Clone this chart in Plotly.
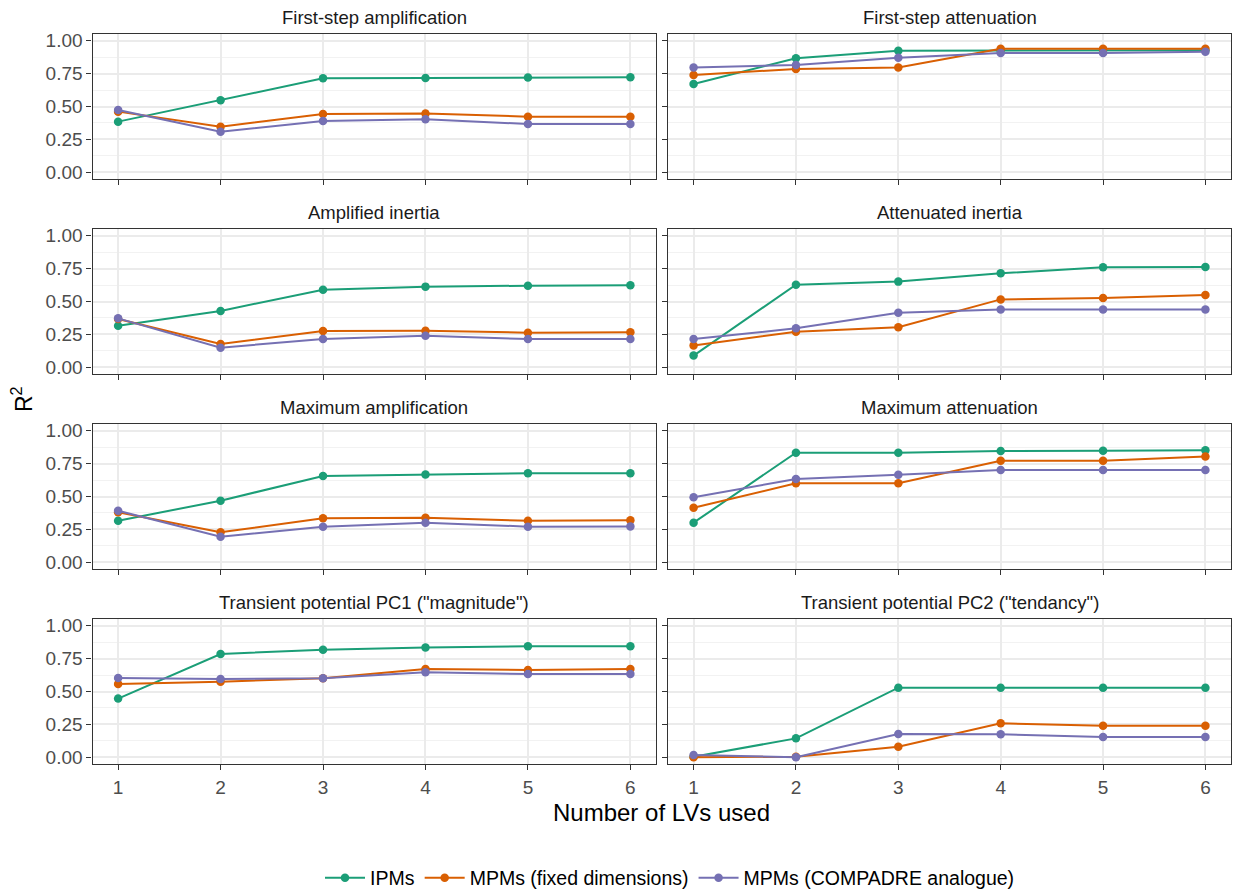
import plotly.graph_objects as go

lvs = [1, 2, 3, 4, 5, 6]
x_ticks = ["1", "2", "3", "4", "5", "6"]
y_ticks = [0.0, 0.25, 0.5, 0.75, 1.0]
y_tick_labels = ["0.00", "0.25", "0.50", "0.75", "1.00"]

series_names = ["IPMs", "MPMs (fixed dimensions)", "MPMs (COMPADRE analogue)"]
series_colors = ["#1B9E77", "#D95F02", "#7570B3"]

panel_titles = [
    "First-step amplification", "First-step attenuation",
    "Amplified inertia", "Attenuated inertia",
    "Maximum amplification", "Maximum attenuation",
    'Transient potential PC1 ("magnitude")', 'Transient potential PC2 ("tendancy")',
]

# values per panel: [IPMs, MPMs fixed, MPMs COMPADRE]
first_step_amplification = [
    [0.385, 0.547, 0.714, 0.717, 0.720, 0.722],
    [0.461, 0.347, 0.443, 0.446, 0.423, 0.423],
    [0.473, 0.309, 0.390, 0.403, 0.367, 0.367],
]
first_step_attenuation = [
    [0.671, 0.866, 0.924, 0.925, 0.926, 0.927],
    [0.739, 0.785, 0.797, 0.939, 0.939, 0.939],
    [0.797, 0.815, 0.871, 0.906, 0.906, 0.916],
]
amplified_inertia = [
    [0.316, 0.428, 0.590, 0.613, 0.620, 0.623],
    [0.367, 0.177, 0.276, 0.278, 0.263, 0.266],
    [0.372, 0.149, 0.215, 0.240, 0.215, 0.215],
]
attenuated_inertia = [
    [0.089, 0.628, 0.651, 0.714, 0.760, 0.762],
    [0.165, 0.271, 0.304, 0.516, 0.527, 0.549],
    [0.215, 0.296, 0.415, 0.440, 0.440, 0.440],
]
maximum_amplification = [
    [0.316, 0.468, 0.656, 0.668, 0.676, 0.676],
    [0.380, 0.228, 0.334, 0.339, 0.316, 0.319],
    [0.392, 0.195, 0.271, 0.301, 0.271, 0.273],
]
maximum_attenuation = [
    [0.301, 0.833, 0.833, 0.846, 0.848, 0.851],
    [0.415, 0.600, 0.600, 0.772, 0.772, 0.803],
    [0.494, 0.633, 0.666, 0.701, 0.701, 0.701],
]
transient_pc1 = [
    [0.446, 0.785, 0.818, 0.835, 0.843, 0.843],
    [0.557, 0.575, 0.600, 0.671, 0.663, 0.671],
    [0.603, 0.595, 0.600, 0.646, 0.633, 0.633],
]
transient_pc2 = [
    [0.004, 0.144, 0.529, 0.529, 0.529, 0.529],
    [0.000, 0.005, 0.081, 0.258, 0.240, 0.240],
    [0.018, 0.000, 0.177, 0.175, 0.154, 0.154],
]

panels = [
    first_step_amplification, first_step_attenuation,
    amplified_inertia, attenuated_inertia,
    maximum_amplification, maximum_attenuation,
    transient_pc1, transient_pc2,
]

W, H = 1236, 892
col_px = [(92.5, 656.0), (668.0, 1231.0)]
row_px = [(34.1, 178.9), (229.1, 373.9), (424.1, 568.9), (619.1, 763.9)]

FONT = "Liberation Sans, Arial, sans-serif"
fig = go.Figure()
layout = dict(
    width=W, height=H, margin=dict(l=0, r=0, t=0, b=0, autoexpand=False),
    paper_bgcolor="white", plot_bgcolor="white",
    font=dict(family=FONT, color="#4D4D4D"),
    showlegend=True,
)
annotations = []

for i, data in enumerate(panels):
    r, c = divmod(i, 2)
    n = i + 1
    xa = "xaxis" if n == 1 else f"xaxis{n}"
    ya = "yaxis" if n == 1 else f"yaxis{n}"
    xref = "x" if n == 1 else f"x{n}"
    yref = "y" if n == 1 else f"y{n}"
    x0, x1 = col_px[c]
    y0, y1 = row_px[r]
    layout[xa] = dict(
        domain=[x0 / W, x1 / W], range=[0.75, 6.25], anchor=yref,
        tickvals=lvs, ticktext=x_ticks, showticklabels=(r == 3),
        ticks="outside", ticklen=5, tickwidth=1.2, tickcolor="#333333",
        ticklabelstandoff=1, automargin=False,
        tickfont=dict(size=19, color="#4D4D4D", family=FONT),
        showgrid=True, gridcolor="#EBEBEB", gridwidth=1.5,
        showline=True, mirror=True, linecolor="#333333", linewidth=1.2,
        zeroline=False, fixedrange=True,
    )
    layout[ya] = dict(
        domain=[1 - y1 / H, 1 - y0 / H], range=[-0.05, 1.05], anchor=xref,
        tickvals=y_ticks, ticktext=y_tick_labels, showticklabels=(c == 0),
        ticks="outside", ticklen=5, tickwidth=1.2, tickcolor="#333333",
        automargin=False,
        tickfont=dict(size=19, color="#4D4D4D", family=FONT),
        showgrid=True, gridcolor="#EBEBEB", gridwidth=1.5,
        minor=dict(tickvals=[0.125, 0.375, 0.625, 0.875], showgrid=True,
                   gridcolor="#F2F2F2", gridwidth=0.8, ticks=""),
        showline=True, mirror=True, linecolor="#333333", linewidth=1.2,
        zeroline=False, fixedrange=True,
    )
    for s in range(3):
        fig.add_trace(go.Scatter(
            x=lvs, y=data[s], mode="lines+markers",
            name=series_names[s], legendgroup=series_names[s],
            showlegend=(i == 0),
            line=dict(color=series_colors[s], width=2),
            marker=dict(color=series_colors[s], size=8.5),
            xaxis=xref, yaxis=yref,
        ))
    annotations.append(dict(
        text=panel_titles[i], xref="paper", yref="paper",
        x=(x0 + x1) / 2 / W, y=1 - (y0 - 17) / H,
        xanchor="center", yanchor="middle", showarrow=False,
        font=dict(size=18.5, color="#1A1A1A", family=FONT),
    ))

annotations.append(dict(
    text="Number of LVs used", xref="paper", yref="paper",
    x=(92.5 + 1231) / 2 / W, y=1 - 812 / H, xanchor="center", yanchor="middle",
    showarrow=False, font=dict(size=24, color="black", family=FONT),
))
annotations.append(dict(
    text="R<sup>2</sup>", xref="paper", yref="paper",
    x=22 / W, y=1 - 399 / H, xanchor="center", yanchor="middle",
    textangle=-90, showarrow=False, font=dict(size=23, color="black", family=FONT),
))

layout["annotations"] = annotations
layout["legend"] = dict(
    orientation="h", x=670 / W, xanchor="center", y=1 - 878 / H, yanchor="middle",
    font=dict(size=19.5, color="black", family=FONT), bgcolor="rgba(0,0,0,0)",
    itemwidth=40, tracegroupgap=0,
)
fig.update_layout(**layout)
fig.write_html("out.html")
